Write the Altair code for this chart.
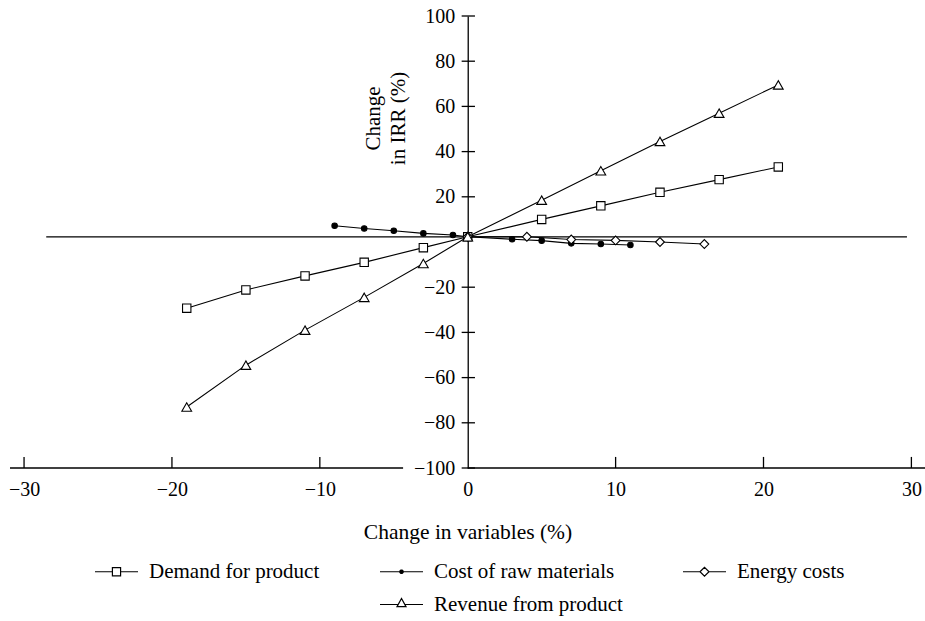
import altair as alt
import pandas as pd

# ---------------- data ----------------
series_names = ["Demand for product", "Cost of raw materials", "Energy costs", "Revenue from product"]

demand_x = [-19, -15, -11, -7, -3, 0, 5, 9, 13, 17, 21]
demand_y = [-29.3, -21.2, -15.0, -9.0, -2.5, 2.3, 10.0, 16.0, 22.0, 27.6, 33.2]

cost_x = [-9, -7, -5, -3, -1, 0, 3, 5, 7, 9, 11]
cost_y = [7.2, 6.0, 5.0, 3.8, 3.1, 2.3, 1.2, 0.6, -0.6, -0.9, -1.3]

energy_x = [0, 4, 7, 10, 13, 16]
energy_y = [2.3, 2.3, 1.1, 0.7, 0.0, -0.9]

revenue_x = [-19, -15, -11, -7, -3, 0, 5, 9, 13, 17, 21]
revenue_y = [-73.0, -54.5, -39.0, -24.5, -9.5, 2.3, 18.5, 31.5, 44.5, 57.0, 69.5]

x_label_values = [-30, -20, -10, 0, 10, 20, 30]
x_tick_values = [-30, -20, -10, 10, 20, 30]
y_label_values = [100, 80, 60, 40, 20, -20, -40, -60, -80, -100]

reference_line_y = [2.3]
reference_line_x = [-28.5, 29.7]

x_domain = [-30.95, 30.92]
y_domain = [-100, 100]

W, H = 915, 452
FONT = "Liberation Serif, Times New Roman, Times, serif"

rows = []
for name, xv, yv in zip(series_names,
                        [demand_x, cost_x, energy_x, revenue_x],
                        [demand_y, cost_y, energy_y, revenue_y]):
    for a, b in zip(xv, yv):
        rows.append({"series": name, "x": a, "y": b})
df = pd.DataFrame(rows)

xs = alt.Scale(domain=x_domain, nice=False, zero=False)
ys = alt.Scale(domain=y_domain, nice=False, zero=False)

y_axis_offset = -(0 - x_domain[0]) / (x_domain[1] - x_domain[0]) * W

x_axis = alt.Axis(
    values=x_label_values, domain=False, ticks=False, grid=False, tickSize=0,
    labelPadding=27, labelBaseline="alphabetic", labelFontSize=20, labelFont=FONT,
    labelColor="black", labelFlush=False,
    title="Change in variables (%)", titleFont=FONT, titleFontSize=21.5,
    titleFontWeight="normal", titleColor="black", titleY=70, titleBaseline="alphabetic")
y_axis = alt.Axis(
    values=y_label_values, offset=y_axis_offset, domain=True, domainColor="black",
    domainWidth=1.3, ticks=False, tickSize=0, grid=False, labelPadding=13,
    labelFontSize=20, labelFont=FONT, labelColor="black", labelFlush=False,
    title=["Change", "in IRR (%)"], titleFont=FONT, titleFontSize=21,
    titleFontWeight="normal", titleColor="#000000", titleAngle=270,
    titleX=-88, titleY=102, titleAlign="center", titleBaseline="alphabetic",
    titleLineHeight=25)


def X(field="x"):
    return alt.X(f"{field}:Q", scale=xs, axis=x_axis)


def Y(field="y"):
    return alt.Y(f"{field}:Q", scale=ys, axis=y_axis)


# x-axis line (interrupted behind the -100 label) and tick marks
xaxis_seg = pd.DataFrame({"x": [x_domain[0], 0.0], "x2": [-4.37, x_domain[1]], "y": [-100, -100]})
xaxis_line = alt.Chart(xaxis_seg).mark_rule(color="black", strokeWidth=1.3).encode(
    x=X(), x2="x2:Q", y=Y())

xt = pd.DataFrame({"x": x_tick_values, "y": [-100] * len(x_tick_values), "y2": [-95.1] * len(x_tick_values)})
xticks = alt.Chart(xt).mark_rule(color="black", strokeWidth=1.3).encode(
    x=X(), y=Y(), y2="y2:Q")

yt = pd.DataFrame({"y": y_label_values, "x": [-0.41] * len(y_label_values), "x2": [0.49] * len(y_label_values)})
yticks = alt.Chart(yt).mark_rule(color="black", strokeWidth=1.3).encode(
    x=X(), x2="x2:Q", y=Y())

ref = pd.DataFrame({"x": [reference_line_x[0]], "x2": [reference_line_x[1]], "y": reference_line_y})
ref_line = alt.Chart(ref).mark_rule(color="black", strokeWidth=1.3).encode(
    x=X(), x2="x2:Q", y=Y())

# ---------------- data lines and markers ----------------
base = alt.Chart(df)
lines = base.mark_line(color="black", strokeWidth=1.1).encode(
    x=X(), y=Y(), detail="series:N")

marker_styles = {
    "Demand for product": dict(shape="square", size=70, fill="white"),
    "Cost of raw materials": dict(shape="circle", size=30, fill="black"),
    "Energy costs": dict(shape="diamond", size=78, fill="white"),
    "Revenue from product": dict(shape="triangle-up", size=95, fill="white"),
}
point_layers = []
for name in series_names:
    st = marker_styles[name]
    point_layers.append(
        base.transform_filter(alt.datum.series == name).mark_point(
            filled=True, shape=st["shape"], size=st["size"], fill=st["fill"],
            stroke="black", strokeWidth=1.1, opacity=1).encode(x=X(), y=Y())
    )

# ---------------- legend (native legend, line+marker symbols) ----------------
legend_domain = ["Demand for product", "Cost of raw materials", "Energy costs", " ", "Revenue from product"]


def octagon(r):
    k = round(r * 0.414, 4)
    return (f"M{-k},{-r}L{k},{-r}L{r},{-k}L{r},{k}L{k},{r}L{-k},{r}"
            f"L{-r},{k}L{-r},{-k}Z")


legend_shapes = [
    "M-1,0L-0.19,0M0.19,0L1,0M-0.19,-0.19L0.19,-0.19L0.19,0.19L-0.19,0.19Z",
    "M-1,0L1,0" + octagon(0.075) + octagon(0.04) + octagon(0.012),
    "M-1,0L-0.21,0M0.21,0L1,0M-0.21,0L0,-0.21L0.21,0L0,0.21Z",
    "M0,0L0,0",
    "M-1,0L-0.16,0M0.16,0L1,0M0,-0.28L-0.21,0.1L0.21,0.1Z",
]

legend_layer = base.transform_filter("datum.x > 1000").mark_point(
    stroke="black", strokeWidth=1.2, size=1849, opacity=1).encode(
    x=X(), y=Y(),
    shape=alt.Shape("series:N",
                    scale=alt.Scale(domain=legend_domain, range=legend_shapes),
                    sort=legend_domain,
                    legend=alt.Legend(
                        title=None, orient="none", legendX=84, legendY=533, columns=3,
                        direction="horizontal", columnPadding=57, rowPadding=-4,
                        labelFont=FONT, labelFontSize=21, labelColor="black",
                        labelOffset=10, labelLimit=400, symbolSize=1849,
                        symbolStrokeWidth=1.2, symbolStrokeColor="black",
                        symbolFillColor="white", symbolOpacity=1, padding=0)),
)

chart = alt.layer(
    ref_line, xaxis_line, xticks, yticks, lines, *point_layers, legend_layer
).properties(
    width=W, height=H,
    padding={"left": 10, "top": 16, "right": 0, "bottom": 153},
    autosize=alt.AutoSizeParams(type="none"),
    background="white",
).configure_view(stroke=None)

chart.save("out.html", embed_options={"renderer": "svg", "actions": False})
